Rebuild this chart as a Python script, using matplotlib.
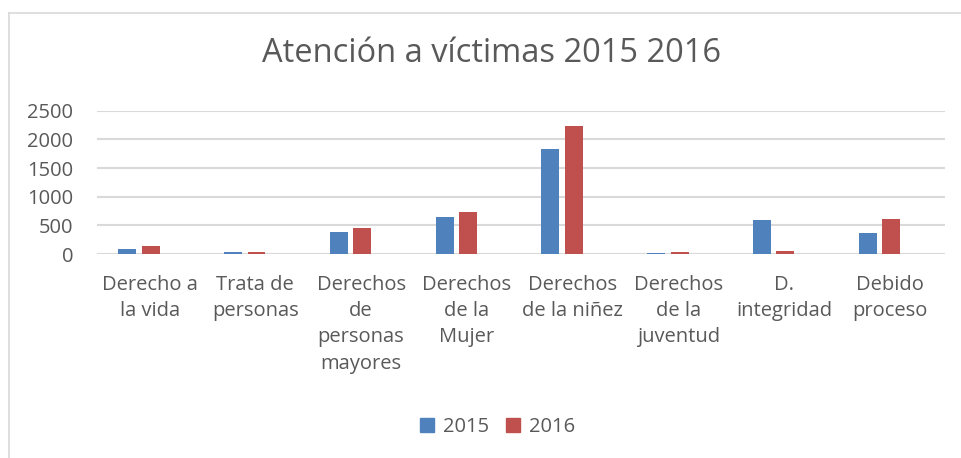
import numpy as np
import matplotlib.pyplot as plt
from matplotlib.lines import Line2D

# Data
categorias = ["Derecho a\nla vida", "Trata de\npersonas", "Derechos\nde\npersonas\nmayores",
              "Derechos\nde la\nMujer", "Derechos\nde la niñez", "Derechos\nde la\njuventud",
              "D.\nintegridad", "Debido\nproceso"]
v2015 = [93, 41, 389, 651, 1830, 17, 587, 360]
v2016 = [134, 35, 459, 732, 2231, 29, 52, 616]
yticks = [0, 500, 1000, 1500, 2000, 2500]

plt.rcParams['font.family'] = ['Open Sans', 'DejaVu Sans']
gris = "#595959"

fig = plt.figure(figsize=(9.62, 4.58), dpi=100)
ax = fig.add_axes([97 / 962, 204 / 458, 848 / 962, 143.3 / 458])

x = np.arange(len(categorias))
ax.bar(x - 0.111, v2015, width=0.17, color="#4F81BD", zorder=3, label="2015")
ax.bar(x + 0.111, v2016, width=0.17, color="#C0504D", zorder=3, label="2016")

ax.set_xlim(-0.397, 7.62)
ax.set_ylim(0, 2500)
ax.set_yticks(yticks)
ax.set_yticklabels([str(t) for t in yticks], fontsize=14.5, color=gris)
ax.set_xticks(x + 0.1)
ax.set_xticklabels(categorias, fontsize=14.5, color=gris, linespacing=1.42)
ax.tick_params(axis='x', length=0, pad=15)
ax.tick_params(axis='y', length=0, pad=17)
ax.grid(axis='y', color="#D9D9D9", linewidth=1.5, zorder=0)
for s in ax.spines.values():
    s.set_visible(False)

fig.text(492 / 962, 1 - 53 / 458, "Atención a víctimas 2015 2016", ha="center", va="center",
         fontsize=23.5, color=gris)

handles = [Line2D([], [], marker="s", linestyle="", markersize=10, color="#4F81BD"),
           Line2D([], [], marker="s", linestyle="", markersize=10, color="#C0504D")]
fig.legend(handles, ["2015", "2016"], loc="center", bbox_to_anchor=(496 / 962, 1 - 427 / 458),
           ncol=2, frameon=False, fontsize=14.5, labelcolor=gris, handletextpad=0.3,
           columnspacing=0.7, handlelength=1.0)

# chart frame
fig.add_artist(Line2D([8.5 / 962, 8.5 / 962], [0, 1 - 12.5 / 458], transform=fig.transFigure,
                      color="#D9D9D9", linewidth=1.2))
fig.add_artist(Line2D([8.5 / 962, 1], [1 - 12.5 / 458, 1 - 12.5 / 458], transform=fig.transFigure,
                      color="#D9D9D9", linewidth=1.2))

plt.savefig("out.png", dpi=100)
